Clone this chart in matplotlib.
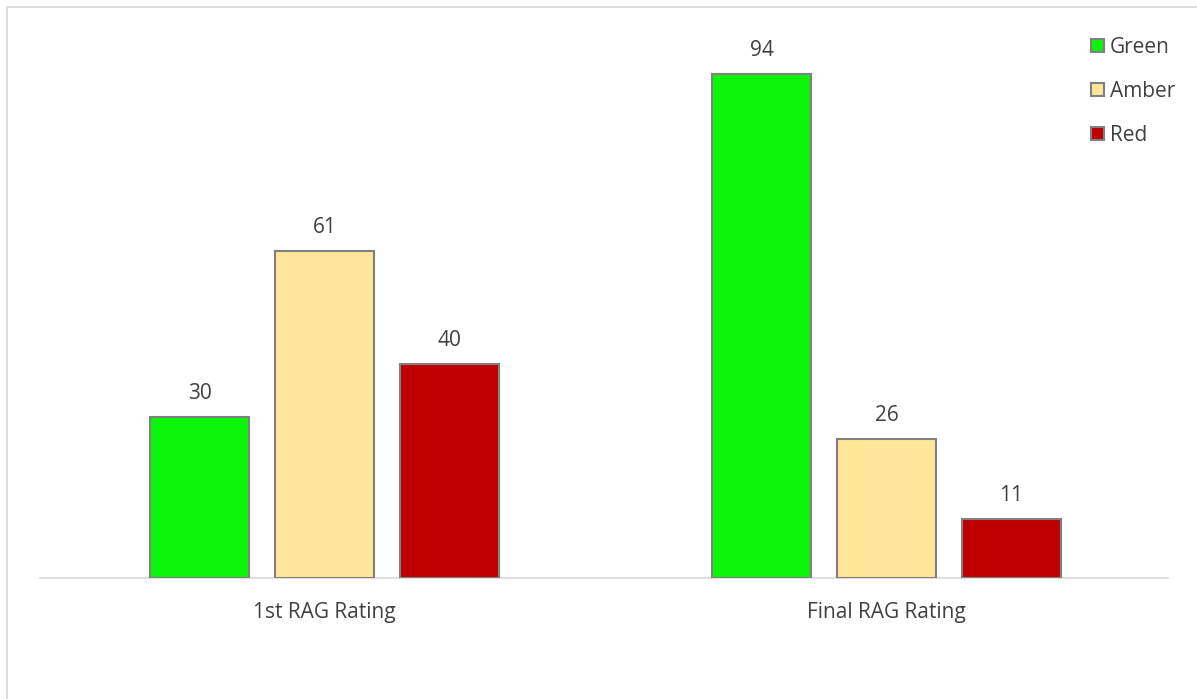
import matplotlib
matplotlib.use("Agg")
import matplotlib.pyplot as plt
from matplotlib.patches import Rectangle
import numpy as np

categories = ["1st RAG Rating", "Final RAG Rating"]
series = ["Green", "Amber", "Red"]
green = [30, 94]
amber = [61, 26]
red = [40, 11]
colors = ["#0AF50A", "#FFE699", "#C00000"]

plt.rcParams["font.family"] = ["Open Sans", "DejaVu Sans"]
text_color = "#404040"
fs = 15

W, H = 1197, 699
fig = plt.figure(figsize=(W / 100, H / 100), dpi=100)
fig.patch.set_facecolor("white")

# outer chart border (left and top visible)
fig.add_artist(Rectangle((7 / W, -0.01), 1.1, (H - 7) / H + 0.01, transform=fig.transFigure,
                         fill=False, edgecolor="#D9D9D9", linewidth=1.2))

left, right, top, base = 43.5, 1167.5, 42, 578
ax = fig.add_axes([left / W, (H - base) / H, (right - left) / W, (base - top) / H])
ax.set_xlim(-0.5, 1.5)
ax.set_ylim(0, 100)

cat_px = (right - left) / 2
bar_w = 99 / cat_px
step = 125 / cat_px
x = np.arange(len(categories))
for i, (name, vals, c) in enumerate(zip(series, [green, amber, red], colors)):
    pos = x + (i - 1) * step
    bars = ax.bar(pos, vals, width=bar_w, color=c, edgecolor="#808080", linewidth=1.5,
                  label=name, zorder=3)
    for b, v in zip(bars, vals):
        ax.text(b.get_x() + b.get_width() / 2, v + 2.4, str(v), ha="center", va="bottom",
                fontsize=fs, color=text_color)

for s in ["top", "right", "left"]:
    ax.spines[s].set_visible(False)
ax.spines["bottom"].set_color("#D9D9D9")
ax.spines["bottom"].set_linewidth(1.2)
ax.spines["bottom"].set_bounds(-0.5 - 3.5 / cat_px, 1.5)
ax.set_yticks([])
ax.set_xticks(x)
ax.set_xticklabels(categories, fontsize=fs, color=text_color)
ax.tick_params(axis="x", length=0, pad=17)

leg = ax.legend(loc="upper left", bbox_to_anchor=(1091 / W, (H - 37) / H),
                bbox_transform=fig.transFigure, frameon=False, fontsize=fs,
                handlelength=0.6, handleheight=0.6, handletextpad=0.3,
                labelspacing=1.1, borderaxespad=0, borderpad=0)
for t in leg.get_texts():
    t.set_color(text_color)

fig.savefig("out.png", dpi=100)
